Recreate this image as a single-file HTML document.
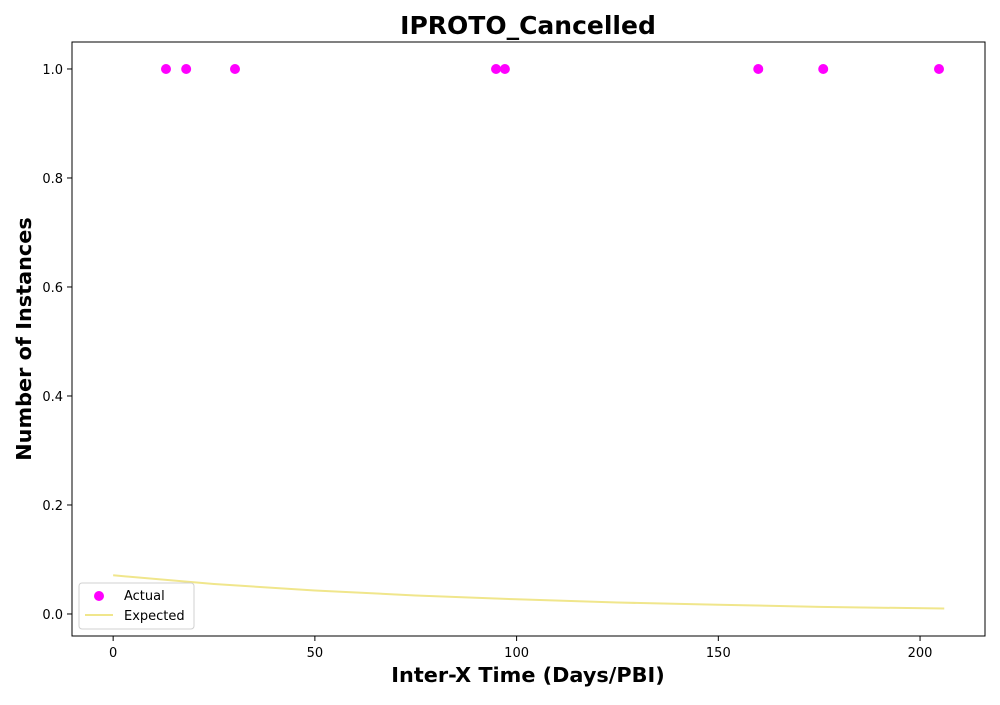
<!DOCTYPE html>
<html><head><meta charset="utf-8"><style>
body{margin:0;background:#fff;font-family:"Liberation Sans","DejaVu Sans",sans-serif;}
</style></head><body>
<svg id="chart" width="1000" height="700" xmlns="http://www.w3.org/2000/svg" font-family="'DejaVu Sans','Liberation Sans',sans-serif">
<rect x="0" y="0" width="1000" height="700" fill="#fff"/>
<text x="528" y="34" text-anchor="middle" font-size="25" font-weight="bold">IPROTO_Cancelled</text>
<text x="528" y="682" text-anchor="middle" font-size="20.8" font-weight="bold">Inter-X Time (Days/PBI)</text>
<text transform="translate(31,339) rotate(-90)" text-anchor="middle" font-size="20.8" font-weight="bold">Number of Instances</text>
<g id="plot"></g>
<rect x="72" y="42" width="913" height="594" fill="none" stroke="#000" stroke-width="1"/>
<g>
<rect x="79" y="583" width="115" height="46" rx="3" fill="#fff" stroke="#ccc" opacity="0.9"/>
<circle cx="99" cy="596" r="5" fill="#ff00ff"/>
<text x="124" y="600" font-size="13">Actual</text>
<line x1="85" y1="615" x2="113" y2="615" stroke="#f0e68c" stroke-width="2"/>
<text x="124" y="620" font-size="13">Expected</text>
</g>
</svg>
<script>
const xTicks=[0,50,100,150,200];
const yTicks=[0.0,0.2,0.4,0.6,0.8,1.0];
const actualX=[13.1,18.1,30.2,94.9,97.1,159.9,176.0,204.7];
const actualY=[1,1,1,1,1,1,1,1];
const expectedX=[0,25,50,75,100,125,150,175,206];
const expectedY=[0.071,0.055,0.043,0.034,0.027,0.021,0.017,0.013,0.010];
const X0=72,X1=985,Y0=636,Y1=42,xmin=-10.2,xmax=216.1,ymin=-0.0404,ymax=1.0495;
const sx=v=>X0+(v-xmin)/(xmax-xmin)*(X1-X0);
const sy=v=>Y0-(v-ymin)/(ymax-ymin)*(Y0-Y1);
const NS='http://www.w3.org/2000/svg';
const g=document.getElementById('plot');
function mk(t,a){const e=document.createElementNS(NS,t);for(const k in a)e.setAttribute(k,a[k]);g.appendChild(e);return e;}
xTicks.forEach(t=>{
 const l=mk('line',{x1:sx(t),x2:sx(t),y1:636,y2:641,stroke:'#000'});
 
 
 const tx=mk('text',{x:sx(t),y:657,'text-anchor':'middle','font-size':13});
 tx.textContent=t;
 
 
});
yTicks.forEach(t=>{
 const l=mk('line',{x1:67,x2:72,y1:sy(t),y2:sy(t),stroke:'#000'});
 
 
 const tx=mk('text',{x:63,y:sy(t)+5,'text-anchor':'end','font-size':13});
 tx.textContent=t.toFixed(1);
 
 
});
const pl=mk('polyline',{points:expectedX.map((x,i)=>sx(x)+','+sy(expectedY[i])).join(' '),fill:'none',stroke:'#f0e68c','stroke-width':2});


actualX.forEach((x,i)=>{
 const c=mk('circle',{cx:sx(x),cy:sy(actualY[i]),r:5,fill:'#ff00ff'});
 
 
});
</script>
</body></html>
